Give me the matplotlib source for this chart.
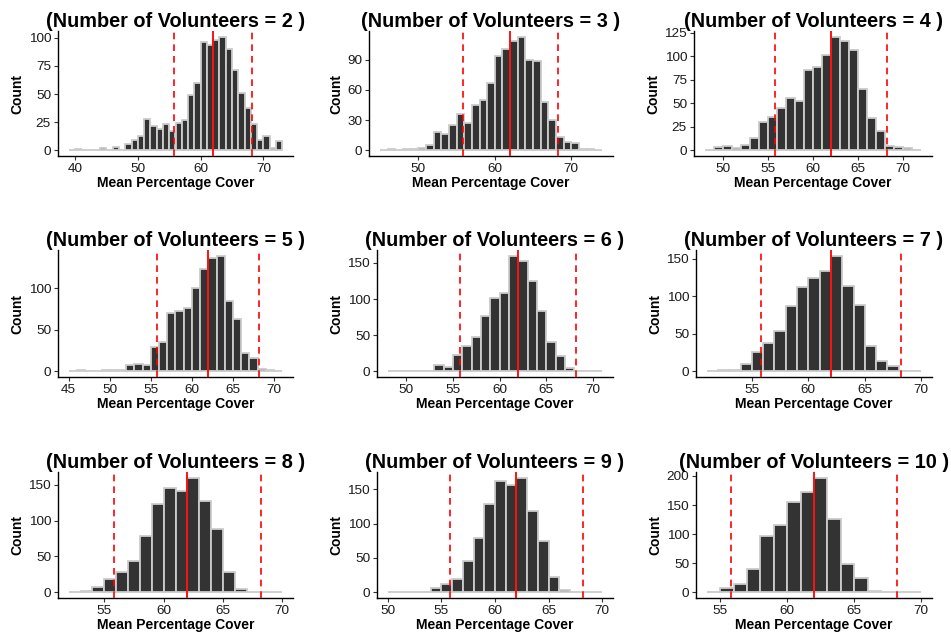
import matplotlib
matplotlib.use("Agg")
import matplotlib.pyplot as plt
import numpy as np

plt.rcParams["font.family"] = ["Liberation Sans", "DejaVu Sans"]

# volunteers per panel, first bin edge, counts per 1-unit bin
volunteers = [2, 3, 4, 5, 6, 7, 8, 9, 10]
bin_start = [39, 45, 48, 45, 48, 51, 52, 50, 54]

counts_v2 = [0, 1, 0, 0, 0, 2, 0, 3, 0, 6, 9, 13, 28, 22, 19, 23, 17, 24, 27, 49,
             60, 96, 94, 98, 101, 90, 71, 51, 38, 23, 9, 13, 2, 8]
counts_v3 = [0, 1, 0, 1, 1, 2, 5, 18, 16, 25, 36, 27, 45, 50, 67, 94, 101, 109, 113,
             90, 89, 48, 30, 13, 8, 7, 1, 1, 0]
counts_v4 = [0, 4, 5, 3, 6, 13, 30, 35, 45, 56, 52, 85, 89, 102, 121, 116, 107, 65,
             34, 21, 5, 4, 2, 0]
counts_v5 = [0, 1, 0, 0, 1, 1, 2, 7, 9, 8, 29, 35, 70, 73, 76, 100, 123, 136, 139,
             84, 63, 22, 16, 3, 1, 0]
counts_v6 = [0, 1, 1, 1, 0, 9, 6, 22, 35, 47, 77, 101, 109, 160, 153, 125, 84, 41,
             21, 4, 0, 1, 1]
counts_v7 = [0, 2, 2, 10, 25, 38, 54, 87, 112, 125, 134, 154, 114, 88, 34, 14, 7, 0, 0]
counts_v8 = [0, 2, 7, 18, 28, 44, 79, 123, 146, 142, 160, 128, 89, 29, 5, 0, 0, 0]
counts_v9 = [0, 1, 0, 1, 6, 12, 19, 46, 79, 128, 162, 157, 167, 119, 75, 22, 3, 0, 0, 0]
counts_v10 = [0, 8, 14, 40, 96, 115, 155, 173, 197, 126, 49, 25, 3, 0, 0, 0]

all_counts = [counts_v2, counts_v3, counts_v4, counts_v5, counts_v6,
              counts_v7, counts_v8, counts_v9, counts_v10]

x_ticks = [[40, 50, 60, 70], [50, 60, 70], [50, 55, 60, 65, 70],
           [45, 50, 55, 60, 65, 70], [50, 55, 60, 65, 70], [55, 60, 65, 70],
           [55, 60, 65, 70], [50, 55, 60, 65, 70], [55, 60, 65, 70]]
y_ticks = [[0, 25, 50, 75, 100], [0, 30, 60, 90], [0, 25, 50, 75, 100, 125],
           [0, 50, 100], [0, 50, 100, 150], [0, 50, 100, 150],
           [0, 50, 100, 150], [0, 50, 100, 150], [0, 50, 100, 150, 200]]

lower_ci = 55.8
mean_cover = 62.0
upper_ci = 68.2

# panel boxes in pixels: left, top, right, bottom
lefts = [58, 369, 694, 58, 377, 696, 58, 377, 696]
rights = [293, 613, 932] * 3
tops = [31] * 3 + [250] * 3 + [472] * 3
bottoms = [156] * 3 + [377] * 3 + [598] * 3

W, H = 951, 637
fig = plt.figure(figsize=(W / 100, H / 100), dpi=100)

for i, counts in enumerate(all_counts):
    l, r, t, b = lefts[i], rights[i], tops[i], bottoms[i]
    ax = fig.add_axes([l / W, 1 - b / H, (r - l) / W, (b - t) / H])
    start = bin_start[i]
    edges = np.arange(start, start + len(counts))
    ax.bar(edges, counts, width=1, align='edge', color='#333333',
           edgecolor='#cccccc', linewidth=1.3, zorder=2)
    ax.axvline(lower_ci, color='red', linestyle=(0, (4, 3)), linewidth=1.2, zorder=3)
    ax.axvline(mean_cover, color='red', linewidth=1.3, zorder=3)
    ax.axvline(upper_ci, color='red', linestyle=(0, (4, 3)), linewidth=1.2, zorder=3)

    span = len(counts)
    ax.set_xlim(start - 0.05 * span, start + span + 0.05 * span)
    top = max(counts)
    ax.set_ylim(-0.05 * top, 1.05 * top)
    ax.set_xticks(x_ticks[i])
    ax.set_yticks(y_ticks[i])

    for s in ['top', 'right']:
        ax.spines[s].set_visible(False)
    for s in ['left', 'bottom']:
        ax.spines[s].set_linewidth(1.0)
        ax.spines[s].set_color('black')
    ax.tick_params(axis='both', labelsize=9.7, length=3, width=0.8,
                   colors='#333333', labelcolor='#1a1a1a', pad=2)

    ax.set_xlabel('Mean Percentage Cover', fontsize=10, fontweight='bold', labelpad=1)
    ax.set_ylabel('Count', fontsize=10, fontweight='bold', labelpad=3)
    ax.set_title('(Number of Volunteers = %d )' % volunteers[i],
                 fontsize=14.3, fontweight='bold', pad=3)

plt.savefig('out.png', dpi=100)
